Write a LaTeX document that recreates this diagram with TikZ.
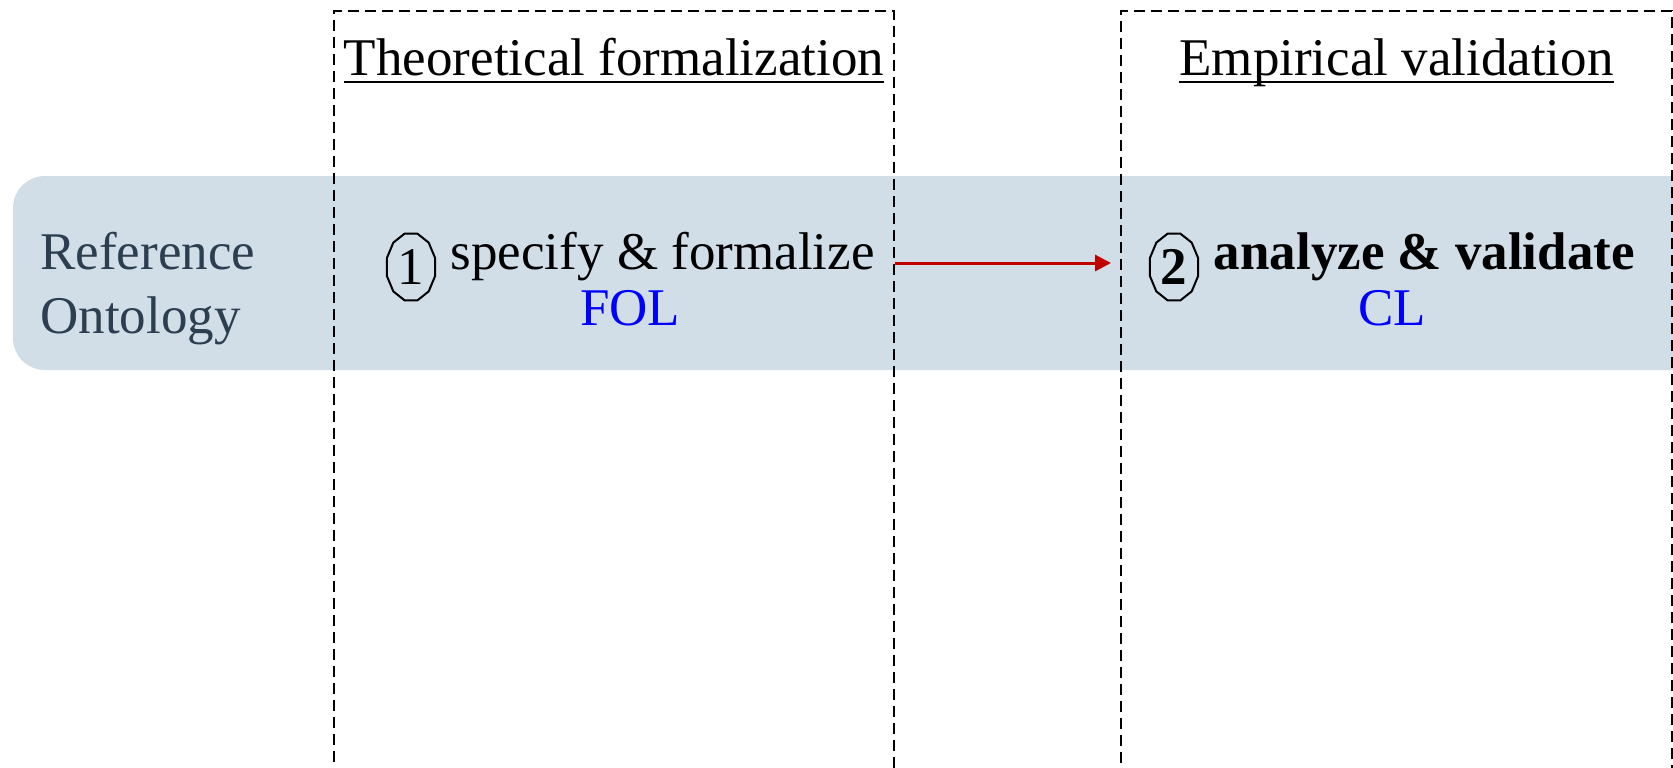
\documentclass[tikz,border=0pt]{standalone}
\usepackage{fontspec}
\setmainfont{Liberation Serif}
\usepackage{tikz}
\usetikzlibrary{arrows.meta,positioning,fit,calc,shapes.geometric}
\usepackage{xcolor}
\definecolor{bandblue}{RGB}{209,222,231}
\definecolor{slate}{RGB}{44,62,80}
\definecolor{darkred}{RGB}{192,0,0}

\begin{document}
\begin{tikzpicture}[x=0.5pt,y=-0.5pt,font=\fontsize{26.5}{32}\selectfont]
\tikzstyle{phase} = [draw, dash pattern=on 5.5pt off 3pt, line width=1pt, inner sep=0pt]
\tikzstyle{heading} = [inner sep=0pt, anchor=base]
\tikzstyle{uline} = [draw, line width=1.2pt]
\tikzstyle{role} = [anchor=west, align=left, text=slate, inner sep=0pt]
\tikzstyle{num} = [ellipse, minimum width=25pt, minimum height=34.5pt, inner sep=0pt]
\tikzstyle{ring} = [draw, line width=1pt]
\tikzstyle{stepname} = [inner sep=0pt]
\tikzstyle{lang} = [inner sep=0pt, text=blue]
\tikzstyle{line} = [draw, line width=1.5pt, darkred, -{Triangle[length=8pt,width=8pt]}]

\useasboundingbox (0,0) rectangle (1673,767);
\clip (0,0) rectangle (1673,767);

% ontology band
\fill[bandblue, rounded corners=16pt] (13,176) rectangle (1720,370);

% the two phases
\node[phase, fit={(334,11) (894,820)}] (tf) {};
\node[phase, fit={(1121,11) (1672,820)}] (ev) {};
\node[heading] (tft) at ([yshift=-32.5pt]tf.north) {Theoretical formalization};
\node[heading] (evt) at ([yshift=-32.5pt]ev.north) {Empirical validation};
\foreach \t in {tft,evt}
  \draw[uline] ([yshift=-3.5pt]\t.base west) -- ([yshift=-3.5pt]\t.base east);

\node[role] (ro) at (40,289) {Reference\\Ontology};

% step 1
\node[num] (c1) at (411,267) {1};
\node[stepname, right=7pt of c1, yshift=5.25pt] (s1) {specify \& formalize};
\node[lang, yshift=-23pt] (fol) at ($(c1.west)!0.5!(s1.east)$) {FOL};

% step 2
\node[num, font=\fontsize{26.5}{32}\selectfont\bfseries] (c2) at (1174,267) {2};
\node[stepname, right=7pt of c2, yshift=5.25pt, font=\fontsize{26.5}{32}\selectfont\bfseries] (s2) {analyze \& validate};
\node[lang, yshift=-23pt] (cl) at ($(c2.west)!0.5!(s2.east)$) {CL};

\foreach \c in {c1,c2}
  \draw[ring, shift={(\c)}] plot[samples=13, domain=15:375] ({25*cos(\x)}, {34.5*sin(\x)}) -- cycle;

\path[line, shorten >=4.5pt] ([yshift=2pt]tf.east |- c1) -- ([yshift=2pt]ev.west |- c1);

\end{tikzpicture}
\end{document}
